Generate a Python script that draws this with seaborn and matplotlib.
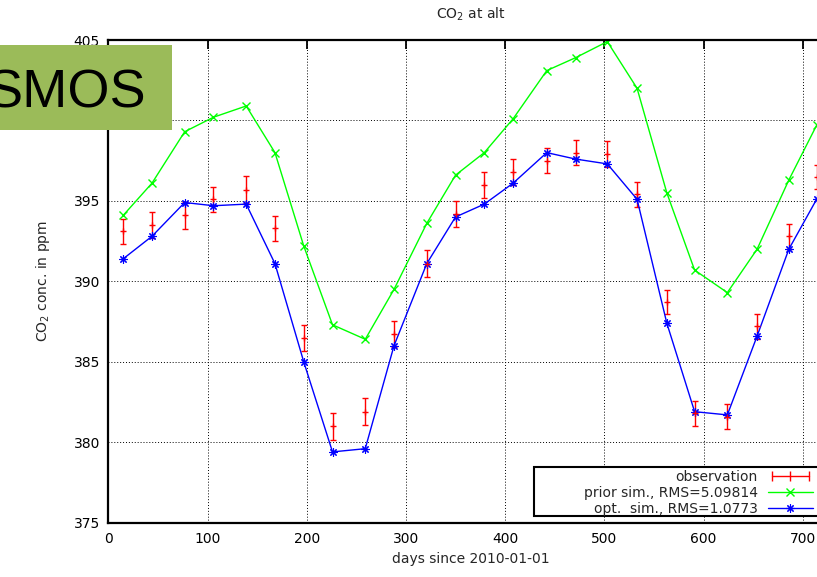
import numpy as np
import pandas as pd
import seaborn as sns
import matplotlib
matplotlib.use('Agg')
import matplotlib.pyplot as plt
from matplotlib.lines import Line2D
from matplotlib.legend_handler import HandlerLine2D
from matplotlib.patches import Rectangle

# data
days = [15, 44, 77, 106, 139, 168, 197, 226, 259, 288, 321, 350,
        379, 408, 442, 471, 503, 533, 563, 591, 624, 654, 686, 714]
obs = [393.1, 393.5, 394.1, 395.1, 395.7, 393.3, 386.5, 381.0, 381.9, 386.7, 391.1, 394.2,
       396.0, 396.8, 397.5, 398.0, 397.9, 395.4, 388.7, 381.8, 381.6, 387.2, 392.8, 396.5]
obs_err = [0.78, 0.8, 0.82, 0.78, 0.83, 0.79, 0.8, 0.83, 0.84, 0.81, 0.83, 0.8,
           0.8, 0.8, 0.78, 0.78, 0.81, 0.76, 0.76, 0.77, 0.8, 0.8, 0.78, 0.75]
prior = [394.1, 396.1, 399.3, 400.2, 400.9, 398.0, 392.2, 387.3, 386.4, 389.5, 393.6, 396.6,
         398.0, 400.1, 403.1, 403.9, 404.9, 402.0, 395.5, 390.7, 389.3, 392.0, 396.3, 399.7]
opt = [391.4, 392.8, 394.9, 394.7, 394.8, 391.1, 385.0, 379.4, 379.6, 386.0, 391.1, 394.0,
       394.8, 396.1, 398.0, 397.6, 397.3, 395.1, 387.4, 381.9, 381.7, 386.6, 392.0, 395.1]
labels = ['observation', 'prior sim., RMS=5.09814', 'opt.  sim., RMS=1.0773']

df = pd.DataFrame({'days': days, 'prior': prior, 'opt': opt})

sns.set_style('white')
plt.rcParams['font.family'] = ['DejaVu Sans']

W, H = 817, 577
fig = plt.figure(figsize=(W / 100, H / 100), dpi=100)
ax = fig.add_axes([108.3 / W, 1 - 522.7 / H, 724.2 / W, (522.7 - 40) / H])

red, green, blue = '#ff0000', '#00ff00', '#0000ff'
star = (8, 2, 0)

ax.errorbar(days, obs, yerr=obs_err, fmt='+', color=red, ms=5, mew=1,
            elinewidth=1, capsize=2.5, capthick=1, zorder=2)
sns.lineplot(data=df, x='days', y='prior', ax=ax, color=green, lw=1,
             marker='x', ms=6, mew=1, mec=green, zorder=2)
sns.lineplot(data=df, x='days', y='opt', ax=ax, color=blue, lw=1,
             marker=star, ms=6, mew=0.8, mec=blue, zorder=2)

ax.set_xlim(0, 730)
ax.set_ylim(375, 405)
ax.set_xticks(range(0, 701, 100))
ax.set_yticks(range(375, 406, 5))
ax.grid(True, color='black', linestyle=(0, (1, 2)), linewidth=0.7)
ax.tick_params(direction='in', length=6.5, width=1.3, top=True, right=True,
               labelsize=10, colors='black')
ax.tick_params(axis='x', pad=7)
ax.tick_params(axis='y', pad=6)
for s in ax.spines.values():
    s.set_linewidth(1.6)
    s.set_color('black')

ax.set_title(r'CO$_\mathregular{2}$ at alt', fontsize=10, pad=15.5)
ax.set_xlabel('days since 2010-01-01', fontsize=10, labelpad=4)
ax.set_ylabel(r'CO$_\mathregular{2}$ conc. in ppm', fontsize=10)
ax.yaxis.set_label_coords(-0.0777, 0.5)

# legend, gnuplot style
h_obs = Line2D([], [], color=red, lw=1, marker='|', ms=7, mew=1)
h_prior = Line2D([], [], color=green, lw=1, marker='x', ms=6, mew=1)
h_opt = Line2D([], [], color=blue, lw=1, marker=star, ms=6, mew=0.8)
leg = ax.legend([h_obs, h_prior, h_opt], labels,
                handler_map={h_obs: HandlerLine2D(numpoints=3)},
                loc='lower right', bbox_to_anchor=(817.5 / W, 1 - 520 / H),
                bbox_transform=fig.transFigure, markerfirst=False, frameon=False,
                borderpad=0.3, handlelength=3.3, handletextpad=0.7,
                labelspacing=0.15, borderaxespad=0, fontsize=10)
leg.set_zorder(6)
ax.add_patch(Rectangle((534 / W, 1 - 516 / H), 300 / W, 49 / H,
                       transform=fig.transFigure, facecolor='white',
                       edgecolor='black', linewidth=1.5, zorder=5, clip_on=False))

# SMOS label box
fig.add_artist(Rectangle((0, 1 - 129.5 / H), 172 / W, 84.5 / H,
                         transform=fig.transFigure, facecolor='#9bbb59',
                         edgecolor='none', zorder=10))
fig.text(146 / W, 1 - 107.3 / H, 'SMOS', fontsize=39, ha='right',
         va='baseline', color='black', zorder=11, family='Liberation Sans')

fig.savefig('out.png', dpi=100)
